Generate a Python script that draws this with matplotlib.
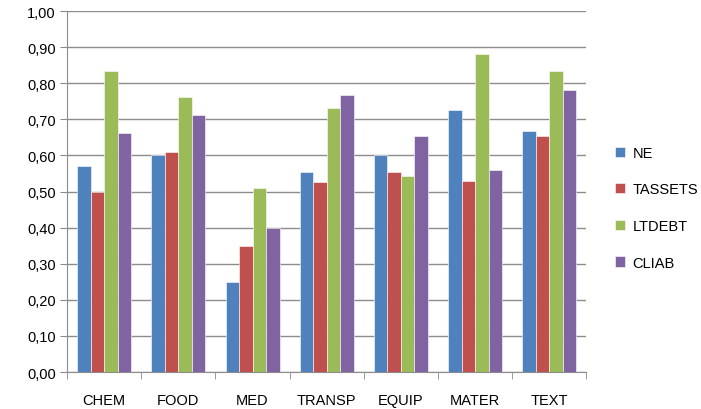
import numpy as np
import matplotlib.pyplot as plt

categories = ['CHEM', 'FOOD', 'MED', 'TRANSP', 'EQUIP', 'MATER', 'TEXT']
ne = [0.57, 0.60, 0.25, 0.555, 0.60, 0.725, 0.668]
tassets = [0.50, 0.61, 0.35, 0.527, 0.555, 0.53, 0.655]
ltdebt = [0.834, 0.763, 0.51, 0.73, 0.543, 0.88, 0.834]
cliab = [0.663, 0.713, 0.40, 0.768, 0.655, 0.56, 0.78]
series_names = ['NE', 'TASSETS', 'LTDEBT', 'CLIAB']
colors = ['#4F81BD', '#C0504D', '#9BBB59', '#8064A2']

plt.rcParams['font.family'] = ['Liberation Sans', 'DejaVu Sans']

fig = plt.figure(figsize=(7.01, 4.10), dpi=100)
ax = fig.add_axes([0.0956, 0.0902, 0.741, 0.8805])

x = np.arange(len(categories))
w = 0.182
for k, vals in enumerate([ne, tassets, ltdebt, cliab]):
    ax.bar(x + (k - 1.5) * w, vals, width=w, color=colors[k],
           edgecolor='white', linewidth=0.4, label=series_names[k], zorder=3)

ax.set_xlim(-0.5, len(categories) - 0.5)
ax.set_ylim(0, 1.0)
ax.set_yticks(np.arange(0, 1.01, 0.1))
ax.set_yticklabels([('%.2f' % v).replace('.', ',') for v in np.arange(0, 1.01, 0.1)])
ax.yaxis.grid(True, color='#8c8c8c', linewidth=1.0, zorder=0)

ax.set_xticks(x)
ax.set_xticklabels(categories)
ax.set_xticks(np.arange(-0.5, len(categories)), minor=True)
ax.tick_params(axis='x', which='major', length=0, pad=15, labelsize=10.5)
ax.tick_params(axis='x', which='minor', length=5, color='#8c8c8c', direction='out')
ax.tick_params(axis='y', length=5, color='#8c8c8c', labelsize=10.5, pad=3)

for s in ['top', 'right']:
    ax.spines[s].set_visible(False)
for s in ['left', 'bottom']:
    ax.spines[s].set_color('#8c8c8c')

ax.legend(loc='center left', bbox_to_anchor=(1.03, 0.455), frameon=False,
          fontsize=10.5, handlelength=0.7, handleheight=0.7,
          labelspacing=1.55, handletextpad=0.5)

fig.savefig('out.png', dpi=100)
